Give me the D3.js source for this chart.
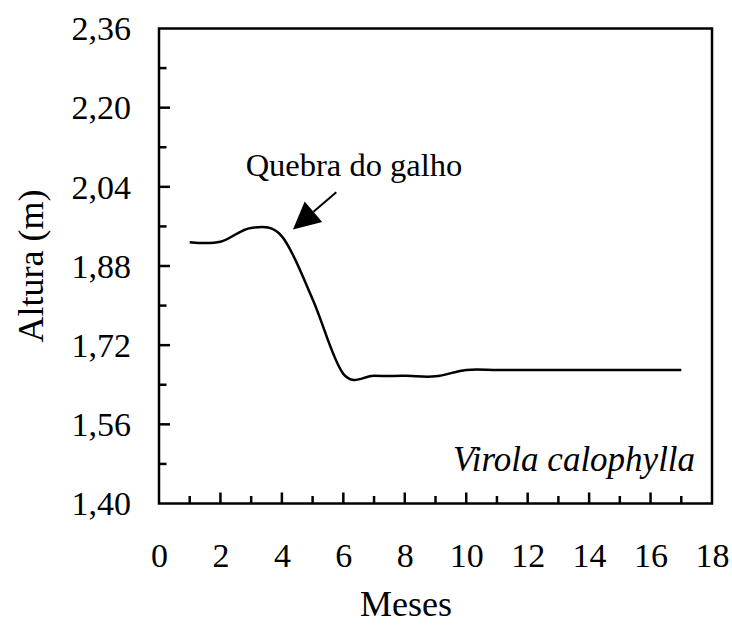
<!DOCTYPE html>
<html>
<head>
<meta charset="utf-8">
<script src="https://cdn.jsdelivr.net/npm/d3@7"></script>
<style>
  html, body { margin: 0; padding: 0; background: #fff; }
  svg { display: block; }
</style>
</head>
<body>
<script>
// ---- data ----
const months = [1, 2, 3, 4, 5, 6, 7, 8, 9, 10, 11, 12, 13, 14, 15, 16, 17];
const heights = [1.928, 1.929, 1.957, 1.940, 1.813, 1.662, 1.658, 1.658, 1.657, 1.670, 1.670, 1.670, 1.670, 1.670, 1.670, 1.670, 1.670];
const xTickValues = [0, 2, 4, 6, 8, 10, 12, 14, 16, 18];
const yTickValues = [1.40, 1.56, 1.72, 1.88, 2.04, 2.20, 2.36];
const xTitle = "Meses";
const yTitle = "Altura (m)";
const speciesLabel = "Virola calophylla";
const annotationText = "Quebra do galho";

const FONT = "'Liberation Serif', 'Times New Roman', Times, 'Nimbus Roman', 'DejaVu Serif', serif";

// ---- layout ----
const W = 732, H = 640;
const m = { left: 159, top: 28.5, right: 20, bottom: 136.5 };
const iw = W - m.left - m.right, ih = H - m.top - m.bottom;

const svg = d3.select("body").append("svg").attr("width", W).attr("height", H)
  .style("font-family", FONT);
const g = svg.append("g").attr("transform", `translate(${m.left},${m.top})`);

const x = d3.scaleLinear().domain([0, 18]).range([0, iw]);
const y = d3.scaleLinear().domain([1.40, 2.36]).range([ih, 0]);

// minor ticks
const xMinor = d3.range(1, 18, 2);
const yMinor = d3.range(0, 6).map(i => 1.48 + i * 0.16);

// x axis
const xAxis = g.append("g").attr("transform", `translate(0,${ih})`)
  .call(d3.axisBottom(x).tickValues(xTickValues).tickSize(0).tickPadding(0).tickFormat(d3.format("d")));
xAxis.select(".domain").remove();
xAxis.attr("font-family", null).attr("font-size", null);
xAxis.selectAll("text").style("font-family", FONT).style("font-size", "34px")
  .attr("dy", null).attr("y", 63).attr("fill", "#000");

// y axis
const fmt = d => d.toFixed(2).replace(".", ",");
const yAxis = g.append("g")
  .call(d3.axisLeft(y).tickValues(yTickValues).tickSize(0).tickPadding(0).tickFormat(fmt));
yAxis.select(".domain").remove();
yAxis.attr("font-family", null).attr("font-size", null);
yAxis.selectAll("text").style("font-family", FONT).style("font-size", "34px")
  .attr("x", -28).attr("dy", "0.33em").attr("fill", "#000");

// inward tick marks
const tickG = g.append("g").attr("stroke", "#000").attr("stroke-width", 2.5);
tickG.selectAll(".xmaj").data(xTickValues.filter(d => d > 0 && d < 18)).join("line")
  .attr("x1", d => x(d)).attr("x2", d => x(d)).attr("y1", ih).attr("y2", ih - 11);
tickG.selectAll(".xmin").data(xMinor).join("line")
  .attr("x1", d => x(d)).attr("x2", d => x(d)).attr("y1", ih).attr("y2", ih - 7.5);
tickG.selectAll(".ymaj").data(yTickValues.filter(d => d > 1.41 && d < 2.35)).join("line")
  .attr("x1", 0).attr("x2", 11).attr("y1", d => y(d)).attr("y2", d => y(d));
tickG.selectAll(".ymin").data(yMinor).join("line")
  .attr("x1", 0).attr("x2", 7.5).attr("y1", d => y(d)).attr("y2", d => y(d));

// frame
g.append("rect").attr("x", 0).attr("y", 0).attr("width", iw).attr("height", ih)
  .attr("fill", "none").attr("stroke", "#000").attr("stroke-width", 2.5);

// data line
const data = months.map((mth, i) => ({ x: mth, y: heights[i] }));
g.append("path").datum(data)
  .attr("fill", "none").attr("stroke", "#000").attr("stroke-width", 2.5)
  .attr("stroke-linejoin", "round")
  .attr("d", d3.line().x(d => x(d.x)).y(d => y(d.y)).curve(d3.curveCardinal.tension(0)));

// annotation arrow
const tip = [x(4.36), y(1.954)];
const tail = [x(5.77), y(2.029)];
const ang = Math.atan2(tail[1] - tip[1], tail[0] - tip[0]);
const headLen = 27, headHalf = 13.5;
const bx = tip[0] + headLen * Math.cos(ang), by = tip[1] + headLen * Math.sin(ang);
const px = -Math.sin(ang), py = Math.cos(ang);
g.append("line").attr("x1", bx).attr("y1", by).attr("x2", tail[0]).attr("y2", tail[1])
  .attr("stroke", "#000").attr("stroke-width", 2);
g.append("path")
  .attr("d", `M${tip[0]},${tip[1]} L${bx + px * headHalf},${by + py * headHalf} L${bx - px * headHalf},${by - py * headHalf} Z`)
  .attr("fill", "#000");

g.append("text").attr("x", x(2.82)).attr("y", y(2.062)).style("font-size", "32.5px").text(annotationText);

// species label
g.append("text").attr("x", x(17.45)).attr("y", y(1.465)).attr("text-anchor", "end")
  .style("font-size", "35px").style("font-style", "italic").text(speciesLabel);

// axis titles
svg.append("text").attr("x", 406).attr("y", 616).attr("text-anchor", "middle")
  .style("font-size", "36px").text(xTitle);
svg.append("text").attr("transform", `translate(43,${m.top + ih / 2}) rotate(-90)`)
  .attr("text-anchor", "middle").style("font-size", "36px").text(yTitle);
</script>
</body>
</html>
